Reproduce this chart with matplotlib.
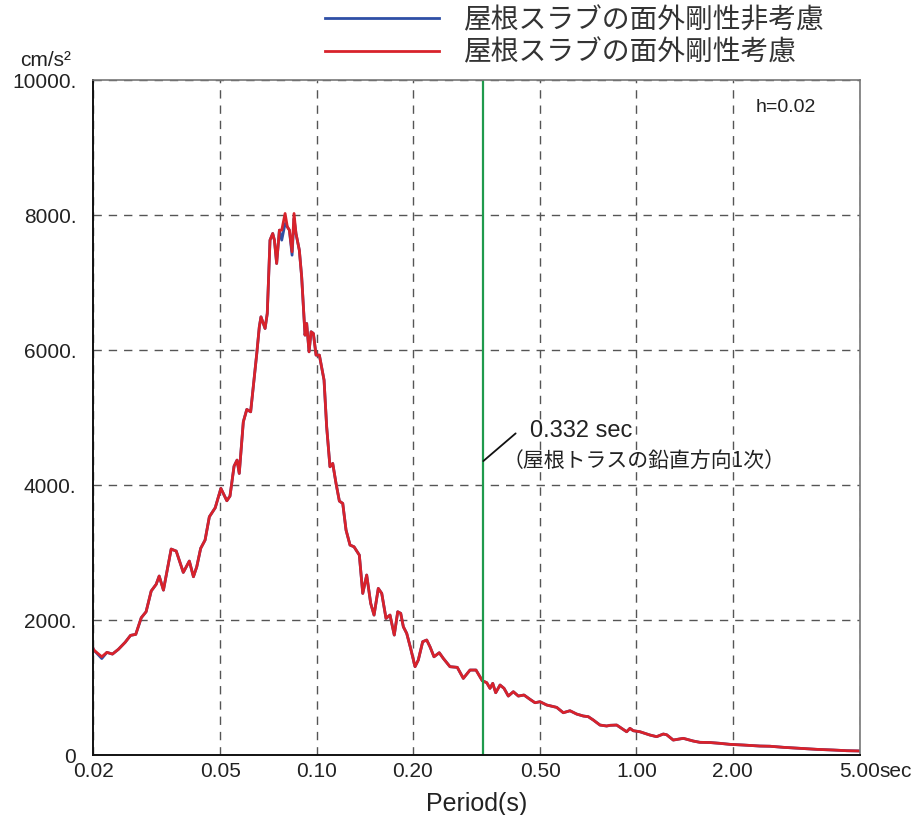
import matplotlib
matplotlib.use("Agg")
import matplotlib.pyplot as plt
from matplotlib.ticker import NullLocator, FixedLocator, FixedFormatter

# acceleration response spectrum, h=0.02
period = [0.0200, 0.0201, 0.0213, 0.0221, 0.0230, 0.0240, 0.0252, 0.0262, 0.0272, 0.0283,
          0.0293, 0.0304, 0.0315, 0.0322, 0.0332, 0.0351, 0.0364, 0.0383, 0.0400, 0.0412,
          0.0422, 0.0434, 0.0448, 0.0462, 0.0482, 0.0502, 0.0524, 0.0536, 0.0552, 0.0564,
          0.0573, 0.0590, 0.0605, 0.0622, 0.0634, 0.0650, 0.0662, 0.0670, 0.0690, 0.0701,
          0.0715, 0.0729, 0.0738, 0.0750, 0.0765, 0.0778, 0.0797, 0.0810, 0.0822, 0.0838,
          0.0850, 0.0862, 0.0883, 0.0898, 0.0909, 0.0920, 0.0931, 0.0947, 0.0961, 0.0977,
          0.0996, 0.1020, 0.1055, 0.1075, 0.1101, 0.1123, 0.1150, 0.1178, 0.1207, 0.1236,
          0.1272, 0.1309, 0.1360, 0.1394, 0.1434, 0.1476, 0.1512, 0.1559, 0.1598, 0.1648,
          0.1696, 0.1749, 0.1793, 0.1832, 0.1867, 0.1913, 0.1968, 0.2031, 0.2079, 0.2146,
          0.2209, 0.2262, 0.2328, 0.2418, 0.2489, 0.2612, 0.2753, 0.2875, 0.3017, 0.3150,
          0.3296, 0.3403, 0.3484, 0.3553, 0.3630, 0.3745, 0.3854, 0.3975, 0.4121, 0.4272,
          0.4450, 0.4647, 0.4817, 0.4993, 0.5240, 0.5630, 0.5905, 0.6196, 0.6502, 0.6819,
          0.7068, 0.7327, 0.7690, 0.8069, 0.8263, 0.8672, 0.9092, 0.9317, 0.9541, 0.9773,
          1.025, 1.102, 1.156, 1.213, 1.243, 1.303, 1.401, 1.505, 1.579, 1.697,
          1.824, 1.960, 2.157, 2.432, 2.614, 2.878, 3.245, 3.659, 4.124, 4.541, 5.00]

acc_with = [1580, 1556, 1456, 1521, 1496, 1566, 1670, 1773, 1788, 2034,
            2123, 2430, 2529, 2652, 2444, 3052, 3022, 2706, 2874, 2642,
            2790, 3062, 3185, 3530, 3664, 3951, 3768, 3837, 4281, 4370,
            4173, 4938, 5121, 5086, 5456, 5950, 6345, 6493, 6321, 6543,
            7630, 7728, 7630, 7284, 7778, 7778, 8025, 7827, 7778, 7457,
            8025, 7728, 7481, 7086, 6642, 6222, 6395, 5975, 6272, 6247,
            5926, 5926, 5556, 4864, 4271, 4321, 4025, 3763, 3728, 3333,
            3111, 3086, 2963, 2395, 2667, 2247, 2074, 2469, 2395, 2025,
            2074, 1778, 2123, 2099, 1901, 1802, 1580, 1309, 1407, 1679,
            1704, 1604, 1456, 1516, 1432, 1309, 1299, 1136, 1259, 1259,
            1101, 1072, 988, 1062, 923, 1037, 988, 874, 938, 874,
            889, 825, 775, 790, 741, 706, 627, 656, 607, 578,
            568, 519, 444, 430, 440, 444, 380, 345, 395, 360,
            345, 296, 272, 311, 300, 222, 247, 207, 188, 185,
            173, 158, 148, 133, 130, 114, 99, 84, 74, 64, 60]

# the two runs only split near the peak
without_diff = {0.0213: 1430, 0.0778: 7630, 0.0797: 7877, 0.0838: 7407, 0.0850: 7950}
acc_without = [without_diff.get(t, a) for t, a in zip(period, acc_with)]

label_without = "屋根スラブの面外剛性非考慮"
label_with = "屋根スラブの面外剛性考慮"

xticks = [0.02, 0.05, 0.10, 0.20, 0.50, 1.00, 2.00, 5.00]
xlabels = ["0.02", "0.05", "0.10", "0.20", "0.50", "1.00", "2.00", "5.00"]
yticks = [0, 2000, 4000, 6000, 8000, 10000]
ylabels = ["0", "2000.", "4000.", "6000.", "8000.", "10000."]
t_mode = 0.332

plt.rcParams['font.family'] = ['Liberation Sans', 'Noto Sans CJK JP', 'DejaVu Sans']

fig = plt.figure(figsize=(9.23, 8.15), dpi=100)
ax = fig.add_axes([0.1008, 0.0736, 0.8310, 0.828])

ax.plot(period, acc_without, color="#2f4fa6", lw=2.0, label=label_without)
ax.plot(period, acc_with, color="#d8222b", lw=2.0, label=label_with)
ax.axvline(t_mode, color="#1f9a4c", lw=1.6)

ax.set_xscale("log")
ax.set_xlim(0.02, 5.0)
ax.set_ylim(0, 10000)
ax.xaxis.set_major_locator(FixedLocator(xticks))
ax.xaxis.set_major_formatter(FixedFormatter(xlabels))
ax.xaxis.set_minor_locator(NullLocator())
ax.set_yticks(yticks)
ax.set_yticklabels(ylabels)
ax.tick_params(axis="both", length=0, labelsize=15, colors="#222")
ax.tick_params(axis="y", pad=12)
ax.tick_params(axis="x", pad=5)

ax.grid(True, color="#555", lw=1.0, linestyle=(0, (6, 5)))
ax.set_axisbelow(True)
for s in ["top", "right"]:
    ax.spines[s].set_color("#777")
    ax.spines[s].set_linewidth(1.2)
for s in ["left", "bottom"]:
    ax.spines[s].set_color("#111")
    ax.spines[s].set_linewidth(1.4)

ax.set_xlabel("Period(s)", fontsize=18, labelpad=8, color="#222")
ax.annotate("sec", xy=(1, 0), xycoords="axes fraction", xytext=(14, -5),
            textcoords="offset points", ha="left", va="top", fontsize=15, color="#222")
ax.annotate("cm/s²", xy=(0, 1), xycoords="axes fraction", xytext=(-34, 14),
            textcoords="offset points", ha="center", va="center", fontsize=15, color="#222")
ax.text(0.9035, 0.96, "h=0.02", transform=ax.transAxes, ha="center", va="center",
        fontsize=14, color="#222")

# mode annotation
ax.annotate("", xy=(t_mode, 4356), xytext=(0.419, 4766),
            arrowprops=dict(arrowstyle="-", color="#111", lw=1.3, shrinkA=0, shrinkB=0))
ax.text(0.4647, 4800, "0.332 sec", ha="left", va="center", fontsize=17, color="#222")
ax.text(0.3826, 4356, "（屋根トラスの鉛直方向1次）", ha="left", va="center", fontsize=15,
        color="#222", family=["Noto Sans CJK JP", "DejaVu Sans"])

leg = fig.legend(loc="upper left", bbox_to_anchor=(0.352, 0.994), frameon=False,
                 handlelength=4.1, handletextpad=0.9, labelspacing=0.1,
                 borderpad=0, borderaxespad=0,
                 prop={"family": ["Noto Sans CJK JP", "DejaVu Sans"], "size": 20})
for t in leg.get_texts():
    t.set_color("#333")

fig.savefig("out.png", dpi=100)
